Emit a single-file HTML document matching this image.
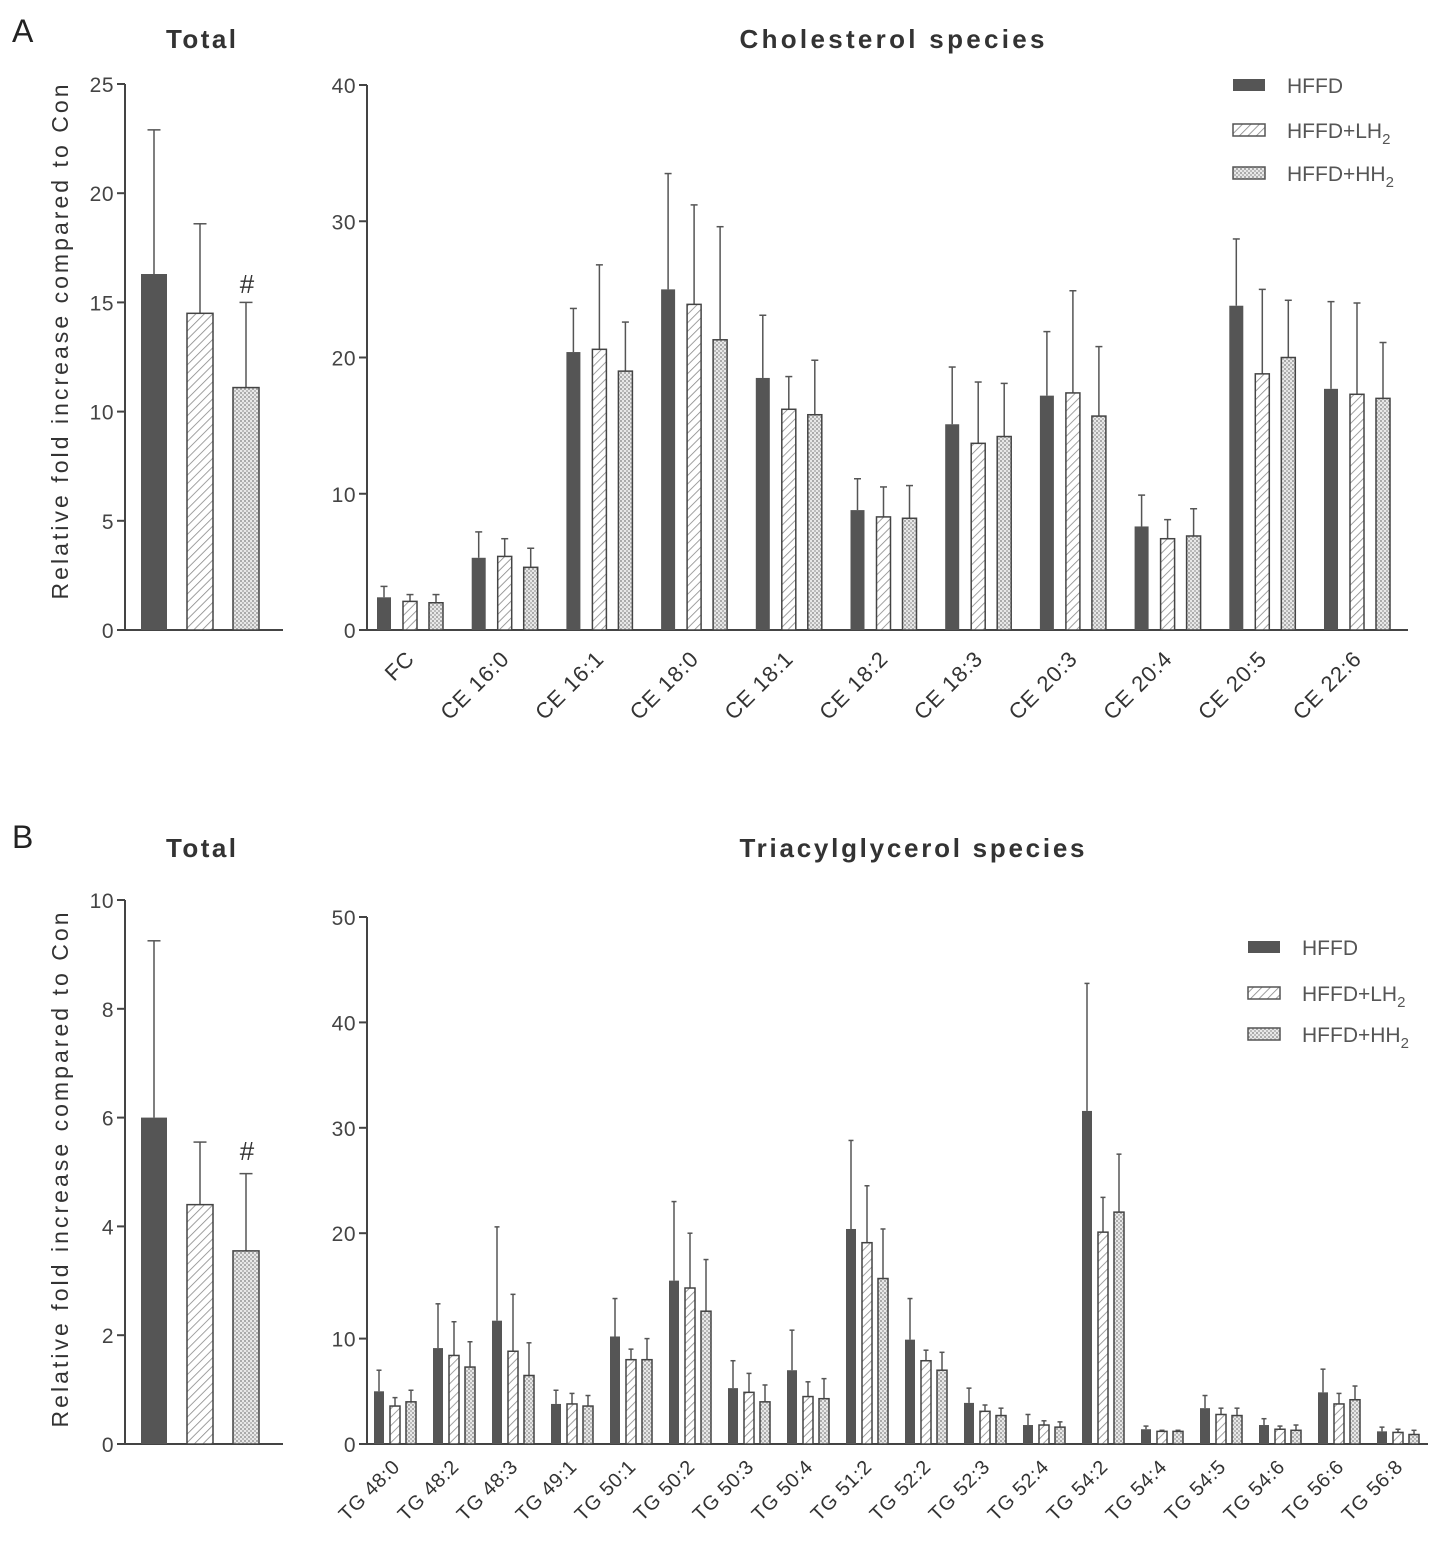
<!DOCTYPE html>
<html><head><meta charset="utf-8">
<style>
body{margin:0;background:#fff;}
svg{display:block;font-family:"Liberation Sans",Arial,sans-serif;}
</style></head>
<body>
<svg id="fig" width="1441" height="1543" viewBox="0 0 1441 1543">
<defs>
<pattern id="hatch" width="6" height="6" patternUnits="userSpaceOnUse" patternTransform="rotate(45)">
<rect width="6" height="6" fill="#fff"/><line x1="0" y1="0" x2="0" y2="6" stroke="#888" stroke-width="1.6"/>
</pattern>
<pattern id="dots" width="4" height="4" patternUnits="userSpaceOnUse">
<rect width="4" height="4" fill="#e8e8e8"/><rect width="2" height="2" fill="#aaa"/><rect x="2" y="2" width="2" height="2" fill="#bbb"/>
</pattern>
</defs>
<text x="12" y="42" font-size="32" fill="#222">A</text>
<text x="12" y="848" font-size="32" fill="#222">B</text>
<g id="root"></g>
</svg>
<script>
const seriesNames=["HFFD","HFFD+LH2","HFFD+HH2"];
// Panel A totals
const aTotalMean=[16.3,14.5,11.1];
const aTotalErr=[22.9,18.6,15.0];
const aTotalTicks=[0,5,10,15,20,25];
// Panel A cholesterol species
const aCats=["FC","CE 16:0","CE 16:1","CE 18:0","CE 18:1","CE 18:2","CE 18:3","CE 20:3","CE 20:4","CE 20:5","CE 22:6"];
const aHFFD=[2.4,5.3,20.4,25.0,18.5,8.8,15.1,17.2,7.6,23.8,17.7];
const aHFFDerr=[3.2,7.2,23.6,33.5,23.1,11.1,19.3,21.9,9.9,28.7,24.1];
const aLH=[2.1,5.4,20.6,23.9,16.2,8.3,13.7,17.4,6.7,18.8,17.3];
const aLHerr=[2.6,6.7,26.8,31.2,18.6,10.5,18.2,24.9,8.1,25.0,24.0];
const aHH=[2.0,4.6,19.0,21.3,15.8,8.2,14.2,15.7,6.9,20.0,17.0];
const aHHerr=[2.6,6.0,22.6,29.6,19.8,10.6,18.1,20.8,8.9,24.2,21.1];
const aTicks=[0,10,20,30,40];
// Panel B totals
const bTotalMean=[6.0,4.4,3.55];
const bTotalErr=[9.25,5.55,4.97];
const bTotalTicks=[0,2,4,6,8,10];
// Panel B TG species
const bCats=["TG 48:0","TG 48:2","TG 48:3","TG 49:1","TG 50:1","TG 50:2","TG 50:3","TG 50:4","TG 51:2","TG 52:2","TG 52:3","TG 52:4","TG 54:2","TG 54:4","TG 54:5","TG 54:6","TG 56:6","TG 56:8"];
const bHFFD=[5.0,9.1,11.7,3.8,10.2,15.5,5.3,7.0,20.4,9.9,3.9,1.8,31.6,1.4,3.4,1.8,4.9,1.2];
const bHFFDerr=[7.0,13.3,20.6,5.1,13.8,23.0,7.9,10.8,28.8,13.8,5.3,2.8,43.7,1.7,4.6,2.4,7.1,1.6];
const bLH=[3.6,8.4,8.8,3.8,8.0,14.8,4.9,4.5,19.1,7.9,3.1,1.8,20.1,1.2,2.8,1.4,3.8,1.1];
const bLHerr=[4.4,11.6,14.2,4.8,9.0,20.0,6.7,5.9,24.5,8.9,3.7,2.2,23.4,1.3,3.4,1.7,4.8,1.4];
const bHH=[4.0,7.3,6.5,3.6,8.0,12.6,4.0,4.3,15.7,7.0,2.7,1.6,22.0,1.2,2.7,1.3,4.2,0.9];
const bHHerr=[5.1,9.7,9.6,4.6,10.0,17.5,5.6,6.2,20.4,8.7,3.4,2.1,27.5,1.3,3.4,1.8,5.5,1.3];
const bTicks=[0,10,20,30,40,50];

const NS="http://www.w3.org/2000/svg";
const root=document.getElementById('root');
const fills=["#555","url(#hatch)","url(#dots)"];
function mk(tag,attrs,parent){const e=document.createElementNS(NS,tag);for(const k in attrs)e.setAttribute(k,attrs[k]);(parent||root).appendChild(e);return e;}
function txt(x,y,s,size,attrs,parent){const t=mk('text',Object.assign({x:x,y:y,'font-size':size,fill:'#333'},attrs||{}),parent);t.textContent=s;return t;}

function axis(x0,x1,yTop,yBot,max,ticks,name){
  const g=mk('g',{});
  
  
  const ys=v=>yBot-(v/max)*(yBot-yTop);
  mk('line',{x1:x0,y1:yTop,x2:x0,y2:yBot,stroke:'#444','stroke-width':2},g);
  mk('line',{x1:x0,y1:yBot,x2:x1,y2:yBot,stroke:'#444','stroke-width':2},g);
  ticks.forEach(t=>{mk('line',{x1:x0-8,y1:ys(t),x2:x0,y2:ys(t),stroke:'#444','stroke-width':2},g);
    txt(x0-11,ys(t)+8,String(t),21,{'text-anchor':'end',fill:'#444','letter-spacing':'0.5'},g);});
  return ys;
}
function bar(cx,w,ys,v,e,k,name){
  const g=mk('g',{});
  
  
  mk('line',{x1:cx,y1:ys(e),x2:cx,y2:ys(v),stroke:'#555','stroke-width':1.5},g);
  mk('line',{x1:cx-w*0.25,y1:ys(e),x2:cx+w*0.25,y2:ys(e),stroke:'#555','stroke-width':1.5},g);
  mk('rect',{x:cx-w/2,y:ys(v),width:w,height:ys(0)-ys(v),fill:fills[k],stroke:'#444','stroke-width':k?1.5:0},g);
}
function legend(x,ys,tx){
  seriesNames.forEach((n,i)=>{
    const g=mk('g',{});
    
    
    mk('rect',{x:x,y:ys[i]-6,width:32,height:12,fill:fills[i],stroke:i?'#555':'none','stroke-width':1.5},g);
    const t=mk('text',{x:tx,y:ys[i]+8,'font-size':21,fill:'#555'},g);
    if(i==0)t.textContent=n;else{t.textContent=n.slice(0,-1);const s=mk('tspan',{'font-size':15,dy:6},t);s.textContent='2';}
  });
}
function ytitle(x,y){const t=txt(x,y,'Relative fold increase compared to Con',23,{'text-anchor':'middle',textLength:515,lengthAdjust:'spacing',transform:'rotate(-90 '+x+' '+y+')'});}
function title(x,y,s,len,name){const t=txt(x,y,s,26,{'font-weight':'bold','text-anchor':'middle',textLength:len,lengthAdjust:'spacing'});}

// Panel A total
title(201,48,'Total',70,'total-title-a');
ytitle(68,342);
let ys=axis(125,283,84,630,25,aTotalTicks,'y-axis-a-total');
[154,200,246].forEach((cx,i)=>bar(cx,26,ys,aTotalMean[i],aTotalErr[i],i,'bar-a-total-'+i));
let t=txt(247,293,'#',26,{'text-anchor':'middle'});

// Panel A species
title(892,48,'Cholesterol species',305,'cholesterol-title');
ys=axis(367,1408,85,630,40,aTicks,'y-axis-cholesterol');
const aS=[[aHFFD,aHFFDerr],[aLH,aLHerr],[aHH,aHHerr]];
aCats.forEach((c,j)=>{
  const cx=410+j*94.7;
  aS.forEach((s,k)=>bar(cx+(k-1)*26,14,ys,s[0][j],s[1][j],k,'bar-'+c.replace(/[ :]/g,'-').toLowerCase()+'-'+k));
  const lx=cx+6,ly=660;
  const l=txt(lx,ly,c,22,{'text-anchor':'end','letter-spacing':'1',transform:'rotate(-45 '+lx+' '+ly+')'});
  
});
legend(1233,[85,130,173],1287);

// Panel B total
title(201,857,'Total',70,'total-title-b');
ytitle(68,1170);
ys=axis(125,283,900,1444,10,bTotalTicks,'y-axis-b-total');
[154,200,246].forEach((cx,i)=>bar(cx,26,ys,bTotalMean[i],bTotalErr[i],i,'bar-b-total-'+i));
t=txt(247,1160,'#',26,{'text-anchor':'middle'});

// Panel B species
title(912,857,'Triacylglycerol species',345,'tg-title');
ys=axis(367,1428,917,1444,50,bTicks,'y-axis-tg');
const bS=[[bHFFD,bHFFDerr],[bLH,bLHerr],[bHH,bHHerr]];
bCats.forEach((c,j)=>{
  const cx=395+j*59;
  bS.forEach((s,k)=>bar(cx+(k-1)*16,10,ys,s[0][j],s[1][j],k,'bar-'+c.replace(/[ :]/g,'-').toLowerCase()+'-'+k));
  const lx=cx+6,ly=1468;
  const l=txt(lx,ly,c,20,{'text-anchor':'end','letter-spacing':'0.6',transform:'rotate(-45 '+lx+' '+ly+')'});
  
});
legend(1248,[947,993,1034],1302);
</script>
</body></html>
